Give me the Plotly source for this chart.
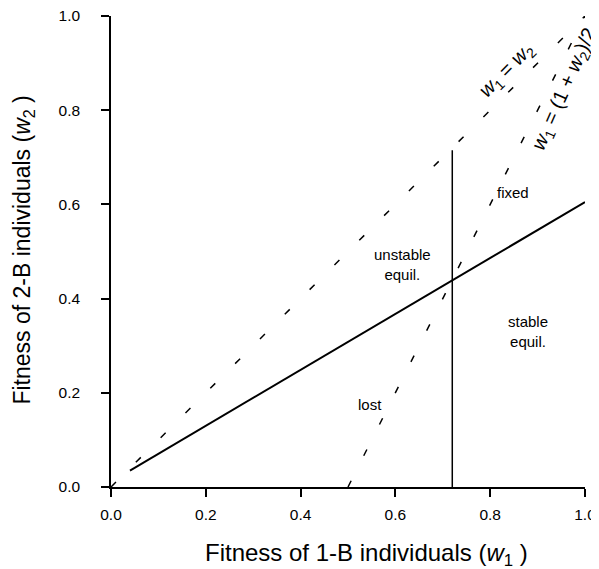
import plotly.graph_objects as go

# Data
eq_x = [0.0, 1.0]
eq_y = [0.0, 1.0]
half_x = [0.5, 1.0]
half_y = [0.0, 1.0]
sep_x = [0.04, 1.0]
sep_y = [0.035, 0.605]
vert_x = [0.72, 0.72]
vert_y = [0.0, 0.715]
tick_vals = [0.0, 0.2, 0.4, 0.6, 0.8, 1.0]
tick_text = ["0.0", "0.2", "0.4", "0.6", "0.8", "1.0"]

region_labels = ["fixed", "unstable<br>equil.", "stable<br>equil.", "lost"]
region_x = [0.848, 0.614, 0.88, 0.546]
region_y = [0.626, 0.472, 0.331, 0.176]

FONT = "Liberation Sans, Arial, Helvetica, sans-serif"
DASH = "7px,28px"

fig = go.Figure()
fig.add_trace(go.Scatter(x=eq_x, y=eq_y, mode="lines",
                         line=dict(color="black", width=1.5, dash=DASH), hoverinfo="skip"))
fig.add_trace(go.Scatter(x=half_x, y=half_y, mode="lines",
                         line=dict(color="black", width=1.5, dash=DASH), hoverinfo="skip"))
fig.add_trace(go.Scatter(x=sep_x, y=sep_y, mode="lines",
                         line=dict(color="black", width=2), hoverinfo="skip"))
fig.add_trace(go.Scatter(x=vert_x, y=vert_y, mode="lines",
                         line=dict(color="black", width=1.5), hoverinfo="skip"))

for t, x, y in zip(region_labels, region_x, region_y):
    fig.add_annotation(x=x, y=y, text=t, showarrow=False,
                       font=dict(family=FONT, size=15, color="black"))

fig.add_annotation(x=0.835, y=0.885, text="<i>w</i><sub>1</sub> = <i>w</i><sub>2</sub>",
                   showarrow=False, textangle=-45,
                   font=dict(family=FONT, size=20, color="black"))
fig.add_annotation(x=0.958, y=0.843,
                   text="<i>w</i><sub>1</sub> = (1 + <i>w</i><sub>2</sub>)/2",
                   showarrow=False, textangle=-66,
                   font=dict(family=FONT, size=20, color="black"))

# Axis titles
fig.add_annotation(x=0.538, y=-0.144, xref="paper", yref="paper",
                   text="Fitness of 1-B individuals (<i>w</i><sub>1</sub> )",
                   showarrow=False, xanchor="center", yanchor="middle",
                   font=dict(family=FONT, size=24, color="black"))
fig.add_annotation(x=-0.1835, y=0.502, xref="paper", yref="paper",
                   text="Fitness of 2-B individuals (<i>w</i><sub>2</sub> )",
                   showarrow=False, xanchor="center", yanchor="middle", textangle=-90,
                   font=dict(family=FONT, size=23, color="black"))

axis_common = dict(range=[0, 1], tickvals=tick_vals, ticktext=tick_text,
                   showgrid=False, zeroline=False, showline=True, linecolor="black",
                   linewidth=1.5, ticks="outside", ticklen=8, tickwidth=1.5,
                   tickcolor="black", automargin=False, ticklabeloverflow="allow",
                   tickfont=dict(family=FONT, size=15.5, color="black"))

# The page body adds an 8px offset, so the figure is sized to fill the rest of the window.
fig.update_layout(
    width=591, height=561,
    margin=dict(l=103, r=14, t=8, b=82),
    paper_bgcolor="white", plot_bgcolor="white",
    showlegend=False,
    xaxis=dict(**axis_common, ticklabelstandoff=5),
    yaxis=dict(**axis_common, ticklabelstandoff=18),
)

fig.write_html("out.html")
